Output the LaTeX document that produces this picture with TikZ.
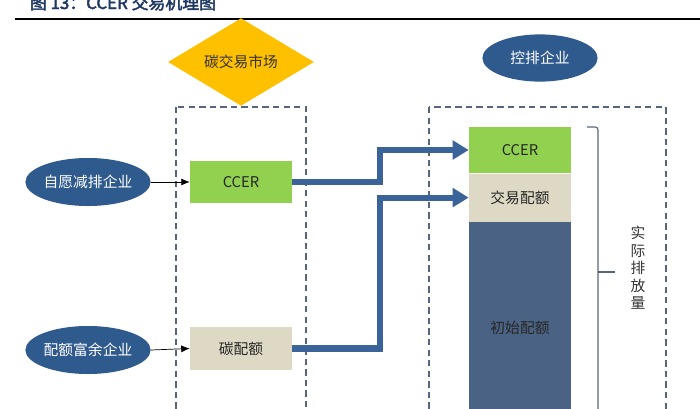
\documentclass[tikz,border=0pt]{standalone}
\usepackage{fontspec}
\setmainfont{Noto Sans CJK SC}[AutoFakeBold=2.5]
\usetikzlibrary{arrows.meta,positioning,shapes.geometric}
\definecolor{titleblue}{HTML}{1F3864}
\definecolor{firmblue}{HTML}{2F5A8E}
\definecolor{flowblue}{HTML}{3A6399}
\definecolor{stackblue}{HTML}{4A6384}
\definecolor{marketyellow}{HTML}{FFC000}
\definecolor{ccergreen}{HTML}{92D050}
\definecolor{quotabeige}{HTML}{DDD9C4}
\definecolor{framegray}{HTML}{55657E}

\begin{document}
\begin{tikzpicture}[
  x=0.025cm, y=-0.025cm,
  node distance=0pt,
  >=Latex,
  font=\fontsize{10.5}{12}\selectfont,
  firm/.style={ellipse, fill=firmblue, text=white, minimum width=2.83cm, minimum height=1.2cm, inner sep=0pt},
  market/.style={diamond, fill=marketyellow, text=black!80, minimum width=3.65cm, minimum height=1.75cm, inner sep=0pt},
  block/.style={rectangle, minimum width=2.55cm, inner sep=0pt, text=black!85},
  frame/.style={draw=framegray, line width=0.9pt, dash pattern=on 4.5pt off 3pt},
  line/.style={draw, -{Latex[length=6pt,width=5pt]}, line width=0.5pt},
  flow/.style={draw=flowblue, line width=4.3pt, -{Triangle[length=0.4cm,width=0.46cm]}},
  brace/.style={draw=framegray, line width=0.8pt, rounded corners=2pt}
]
\clip (0,0) rectangle (700,409);

\node[anchor=base west, text=titleblue, font=\fontsize{12}{13}\selectfont\bfseries] (title) at (25,9) {图 13：CCER 交易机理图};
\draw[line width=1.6pt] (15,19) -- (700,19);

\node[market] (market) at (241,62) {碳交易市场};
\node[firm, minimum width=2.88cm, minimum height=1.18cm] (control) at (540,58) {控排企业};
\node[firm] (vol) at (88,182) {自愿减排企业};
\node[firm] (surplus) at (88,350) {配额富余企业};

\draw[frame] (176,107) rectangle (306,440);
\draw[frame] (429,107) rectangle (666,440);

\node[block, fill=ccergreen, minimum height=1.05cm] (ccerL) at (241,182) {CCER};
\node[block, fill=quotabeige, minimum height=1.05cm] (quotaL) at (241,348.5) {碳配额};

\node[block, fill=ccergreen, minimum height=1.15cm] (ccerR) at (520,150) {CCER};
\node[block, fill=quotabeige, minimum height=1.2cm, below=of ccerR] (tradeR) {交易配额};
\node[block, fill=stackblue, minimum height=5.3cm, below=of tradeR] (initR) {初始配额};

\draw[brace] (587,127) -- (598,127) -- (598,440);
\draw[brace] (598,272) -- (615,272);
\node[align=center, text=black!80, font=\fontsize{10.5}{12.4}\selectfont] (actual) at (638,268) {实\\际\\排\\放\\量};

\path[line] (vol.east) -- (ccerL.west);
\path[line] (surplus.east) -- (quotaL.west);

\path[flow] (ccerL.east) -- ++(88,0) |- (ccerR.west);
\path[flow] (quotaL.east) -- ++(88,0) |- (tradeR.west);

\end{tikzpicture}
\end{document}
